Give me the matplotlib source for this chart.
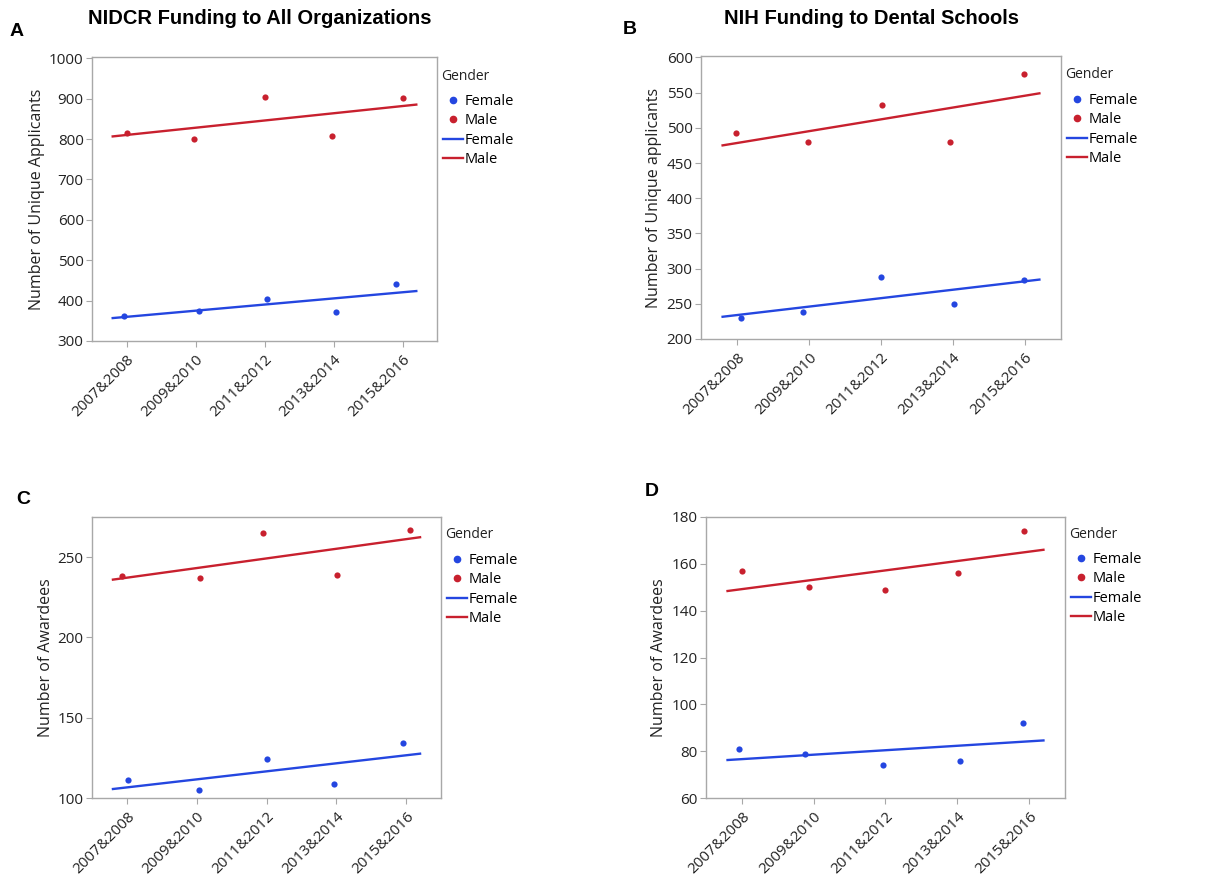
import matplotlib
matplotlib.use("Agg")
import matplotlib.pyplot as plt
import numpy as np
from matplotlib.lines import Line2D

categories = ["2007&2008", "2009&2010", "2011&2012", "2013&2014", "2015&2016"]

# Panel A: NIDCR funding to all organizations - unique applicants
a_female = [362, 375, 403, 371, 440]
a_male = [816, 800, 904, 807, 902]
# Panel B: NIH funding to dental schools - unique applicants
b_female = [230, 238, 288, 250, 284]
b_male = [492, 480, 532, 480, 576]
# Panel C: NIDCR awardees
c_female = [111, 105, 124, 109, 134]
c_male = [238, 237, 265, 239, 267]
# Panel D: NIH dental schools awardees
d_female = [81, 79, 74, 76, 92]
d_male = [157, 150, 149, 156, 174]

# horizontal jitter of points (category units), as in the original
a_jit_f = [-0.03, 0.05, 0.03, 0.03, -0.09]
a_jit_m = [0.00, -0.02, 0.00, -0.02, 0.01]
b_jit_f = [0.055, -0.08, 0.0, 0.02, -0.01]
b_jit_m = [-0.015, -0.02, 0.01, -0.04, -0.02]
c_jit_f = [0.01, 0.03, 0.0, -0.03, -0.05]
c_jit_m = [-0.07, 0.045, -0.05, 0.015, 0.05]
d_jit_f = [-0.04, -0.12, -0.035, 0.04, -0.08]
d_jit_m = [0.0, -0.06, -0.01, 0.015, -0.065]

BLUE = "#2446e0"
RED = "#c8202e"
TXT = "#222222"
SPINE = "#a8a8a8"

plt.rcParams["font.family"] = ["Open Sans", "DejaVu Sans"]

W, H = 1226, 875
fig = plt.figure(figsize=(W / 100, H / 100), dpi=100)


def add_ax(x0, y0, x1, y1):
    return fig.add_axes([x0 / W, 1 - y1 / H, (x1 - x0) / W, (y1 - y0) / H])


panels = [
    dict(box=(92, 57, 437, 341), f=a_female, m=a_male, jf=a_jit_f, jm=a_jit_m,
         ylim=(300, 1003), yticks=np.arange(300, 1001, 100), ylabel="Number of Unique Applicants",
         leg_y=75),
    dict(box=(701, 56, 1061, 339), f=b_female, m=b_male, jf=b_jit_f, jm=b_jit_m,
         ylim=(200, 602), yticks=np.arange(200, 601, 50), ylabel="Number of Unique applicants",
         leg_y=74),
    dict(box=(92, 517, 441, 798), f=c_female, m=c_male, jf=c_jit_f, jm=c_jit_m,
         ylim=(100, 275), yticks=[100, 150, 200, 250], ylabel="Number of Awardees",
         leg_y=534),
    dict(box=(706, 517, 1065, 798), f=d_female, m=d_male, jf=d_jit_f, jm=d_jit_m,
         ylim=(60, 180), yticks=np.arange(60, 181, 20), ylabel="Number of Awardees",
         leg_y=533),
]

x = np.arange(len(categories))
xfit = np.array([-0.2, len(categories) - 1 + 0.2])

for p in panels:
    ax = add_ax(*p["box"])
    for vals, jit, col in ((p["f"], p["jf"], BLUE), (p["m"], p["jm"], RED)):
        ax.scatter(x + np.array(jit), vals, s=20, color=col, zorder=3, linewidths=0)
        k, b = np.polyfit(x, vals, 1)
        ax.plot(xfit, k * xfit + b, color=col, lw=1.7, zorder=2)
    ax.set_xlim(-0.5, len(categories) - 0.5)
    ax.set_ylim(*p["ylim"])
    ax.set_yticks(p["yticks"])
    ax.set_xticks(x)
    ax.set_xticklabels(categories, rotation=45, ha="right", va="top",
                       rotation_mode="anchor", fontsize=11, color=TXT)
    ax.tick_params(axis="y", labelsize=11, labelcolor=TXT, color=SPINE, length=4, pad=2)
    ax.tick_params(axis="x", color=SPINE, length=4, pad=4)
    for s in ax.spines.values():
        s.set_color(SPINE)
        s.set_linewidth(1.0)
    ax.set_ylabel(p["ylabel"], fontsize=11.5, color=TXT, labelpad=3)

    x0, y0, x1, y1 = p["box"]
    fig.text((x1 + 4) / W, 1 - (p["leg_y"] + 1) / H, "Gender", ha="left", va="center",
             fontsize=10, color=TXT)
    handles = [
        Line2D([], [], ls="none", marker="o", ms=4.5, color=BLUE, label="Female"),
        Line2D([], [], ls="none", marker="o", ms=4.5, color=RED, label="Male"),
        Line2D([], [], color=BLUE, lw=1.7, label="Female"),
        Line2D([], [], color=RED, lw=1.7, label="Male"),
    ]
    ax.legend(handles=handles, loc="upper left",
              bbox_to_anchor=((x1 + 6) / W, 1 - (p["leg_y"] + 19) / H),
              bbox_transform=fig.transFigure, frameon=False, fontsize=10.5,
              handlelength=1.4, handletextpad=0.1, labelspacing=0.3,
              borderaxespad=0.0, borderpad=0.0)

fig.text(260 / W, 1 - 19 / H, "NIDCR Funding to All Organizations", ha="center", va="center",
         fontsize=14.5, fontweight="bold", family=["Liberation Sans Narrow", "Liberation Sans", "DejaVu Sans"])
fig.text(871 / W, 1 - 19 / H, "NIH Funding to Dental Schools", ha="center", va="center",
         fontsize=14.5, fontweight="bold", family=["Liberation Sans Narrow", "Liberation Sans", "DejaVu Sans"])

for lab, px, py in (("A", 17, 32), ("B", 630, 30), ("C", 23, 499), ("D", 652, 492)):
    fig.text(px / W, 1 - py / H, lab, ha="center", va="center", fontsize=14,
             fontweight="bold", family=["Liberation Sans", "DejaVu Sans"])

fig.savefig("out.png", dpi=100)
